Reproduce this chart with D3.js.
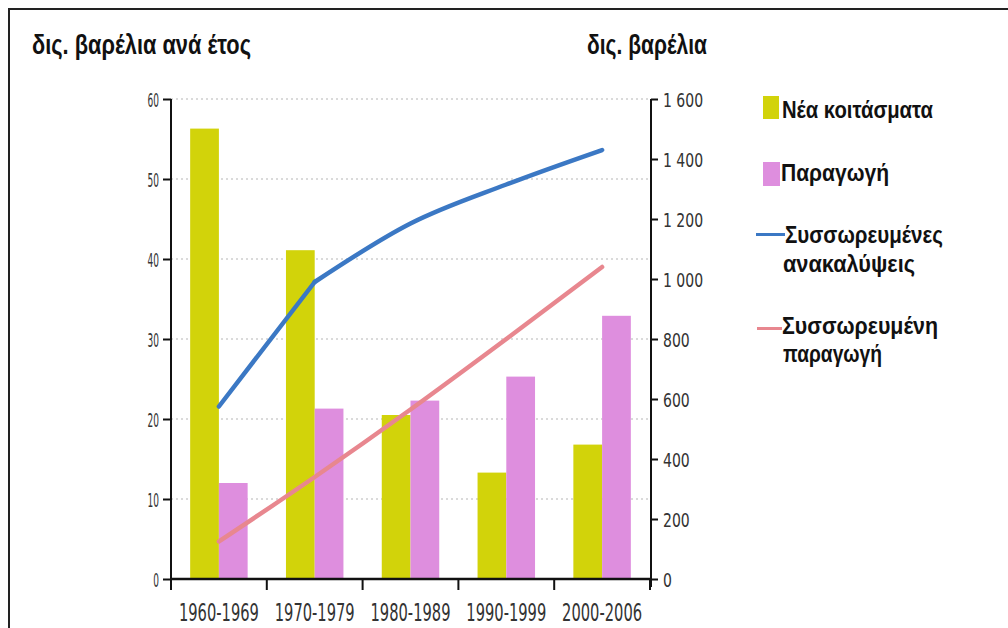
<!DOCTYPE html>
<html>
<head>
<meta charset="utf-8">
<script src="https://cdn.jsdelivr.net/npm/d3@7"></script>
<style>
  html, body { margin: 0; padding: 0; background: #fff; }
  svg { display: block; }
  .narrow { font-family: "Liberation Sans Narrow", "Arial Narrow", "DejaVu Sans Condensed", sans-serif; font-stretch: condensed; }
  .bold { font-family: "Liberation Sans", Arial, "DejaVu Sans", sans-serif; font-weight: bold; }
</style>
</head>
<body>
<svg id="chart" width="1008" height="628"></svg>
<script>
// Periods on the x axis
const periods = ["1960-1969", "1970-1979", "1980-1989", "1990-1999", "2000-2006"];
// Bars, billion barrels per year
const newReserves = [56.3, 41.1, 20.5, 13.3, 16.8];
const production = [12.0, 21.3, 22.3, 25.3, 32.9];
// Lines, cumulative billion barrels
const cumDiscoveries = [575, 990, 1185, 1315, 1430];
const cumProduction = [125, 340, 565, 800, 1040];
// Axis ticks
const leftTicks = [0, 10, 20, 30, 40, 50, 60];
const rightTicks = [0, 200, 400, 600, 800, 1000, 1200, 1400, 1600];

const labels = {
  leftTitle: "δις. βαρέλια ανά έτος",
  rightTitle: "δις. βαρέλια",
  newReserves: "Νέα κοιτάσματα",
  production: "Παραγωγή",
  cumDiscoveries: ["Συσσωρευμένες", "ανακαλύψεις"],
  cumProduction: ["Συσσωρευμένη", "παραγωγή"]
};

const colors = {
  yellow: "#d2d30a",
  pink: "#de8ede",
  blue: "#3b78c4",
  salmon: "#e8878f"
};

const svg = d3.select("#chart");
const plot = { left: 171, right: 650, top: 99, bottom: 579 };

const yL = d3.scaleLinear().domain([0, 60]).range([plot.bottom, plot.top]);
const yR = d3.scaleLinear().domain([0, 1600]).range([plot.bottom, plot.top]);
const x0 = d3.scaleBand().domain(periods).range([plot.left, plot.right]);
const bw = x0.bandwidth();
const x1 = d3.scaleBand().domain(["new", "prod"]).range([bw * 0.2, bw * 0.8]);

// Condensed bold heading text, fitted to a set width
function heading(sel, x, y, size, width, str) {
  return sel.append("text").attr("class", "bold")
    .attr("x", x).attr("y", y).attr("font-size", size).attr("fill", "#111")
    .attr("textLength", width).attr("lengthAdjust", "spacingAndGlyphs")
    .text(str);
}

// Outer frame (top and left edges)
svg.append("line").attr("x1", 9).attr("x2", 1008).attr("y1", 9).attr("y2", 9)
  .attr("stroke", "#222").attr("stroke-width", 2);
svg.append("line").attr("x1", 9).attr("x2", 9).attr("y1", 8).attr("y2", 628)
  .attr("stroke", "#222").attr("stroke-width", 2);

// Titles
heading(svg, 32, 54, 27, 219, labels.leftTitle);
heading(svg, 587, 54, 27, 120, labels.rightTitle);

// Dotted grid
svg.append("g").selectAll("line").data(leftTicks.filter(d => d > 0)).join("line")
  .attr("x1", plot.left).attr("x2", plot.right)
  .attr("y1", d => yL(d)).attr("y2", d => yL(d))
  .attr("stroke", "#b5b5b5").attr("stroke-width", 1).attr("stroke-dasharray", "2,3");

// Bars
const groups = svg.append("g").selectAll("g").data(periods).join("g")
  .attr("transform", p => `translate(${x0(p)},0)`);
groups.append("rect")
  .attr("x", x1("new")).attr("width", x1.bandwidth())
  .attr("y", (p, i) => yL(newReserves[i]))
  .attr("height", (p, i) => yL(0) - yL(newReserves[i]))
  .attr("fill", colors.yellow);
groups.append("rect")
  .attr("x", x1("prod")).attr("width", x1.bandwidth())
  .attr("y", (p, i) => yL(production[i]))
  .attr("height", (p, i) => yL(0) - yL(production[i]))
  .attr("fill", colors.pink);

// Lines on the right scale
const cx = p => x0(p) + bw / 2;
const pts = vals => periods.map((p, i) => ({ p, v: vals[i] }));
const lineLinear = d3.line().x(d => cx(d.p)).y(d => yR(d.v));
const lineSmooth = d3.line().x(d => cx(d.p)).y(d => yR(d.v)).curve(d3.curveMonotoneX);
const disc = pts(cumDiscoveries);
// Discoveries: steep first decade, then a smooth flattening curve
[[lineLinear, disc.slice(0, 2)], [lineSmooth, disc.slice(1)]].forEach(([gen, data]) => {
  svg.append("path").datum(data).attr("d", gen)
    .attr("fill", "none").attr("stroke", colors.blue).attr("stroke-width", 4.5)
    .attr("stroke-linecap", "round");
});
svg.append("path").datum(pts(cumProduction)).attr("d", lineSmooth)
  .attr("fill", "none").attr("stroke", colors.salmon).attr("stroke-width", 4.5)
  .attr("stroke-linecap", "round");

// Left axis
const gL = svg.append("g").attr("transform", `translate(${plot.left},0)`)
  .call(d3.axisLeft(yL).tickValues(leftTicks).tickSize(8).tickSizeOuter(0).tickPadding(4));
gL.select(".domain").attr("stroke", "#111").attr("stroke-width", 2)
  .attr("d", `M0,${plot.top}V${plot.bottom + 11}`);
gL.selectAll(".tick line").attr("stroke", "#111").attr("stroke-width", 2);
gL.selectAll(".tick text").attr("class", "narrow")
  .attr("font-size", 20).attr("fill", "#333")
  .attr("x", null).attr("dy", "0.36em")
  .attr("transform", "translate(-12,0) scale(0.5,1)");

// Right axis
const fmt = d => d >= 1000 ? d3.format("d")(Math.floor(d / 1000)) + " " + d3.format("03d")(d % 1000) : String(d);
const gR = svg.append("g").attr("transform", `translate(${plot.right + 1},0)`)
  .call(d3.axisRight(yR).tickValues(rightTicks).tickFormat(fmt).tickSize(7).tickSizeOuter(0).tickPadding(5));
gR.select(".domain").attr("stroke", "#111").attr("stroke-width", 2)
  .attr("d", `M0,${plot.top}V${plot.bottom + 8}`);
gR.selectAll(".tick line").attr("stroke", "#111").attr("stroke-width", 2);
gR.selectAll(".tick text").attr("class", "narrow")
  .attr("font-size", 20).attr("fill", "#333").attr("dy", "0.36em")
  .attr("x", null).attr("transform", "translate(12,0) scale(0.78,1)");

// Bottom axis: baseline, boundary ticks, period labels
const gB = svg.append("g").attr("transform", `translate(0,${plot.bottom})`)
  .call(d3.axisBottom(x0).tickSize(0).tickPadding(0));
gB.select(".domain").attr("stroke", "#111").attr("stroke-width", 2.5)
  .attr("d", `M${plot.left},0H${plot.right}`);
gB.selectAll(".tick text").attr("class", "narrow")
  .attr("font-size", 24).attr("fill", "#333")
  .attr("y", null).attr("dy", null)
  .attr("transform", "translate(0,42) scale(0.68,1)");
const bounds = periods.map(p => x0(p)).concat([x0.range()[1]]);
gB.append("g").selectAll("line").data(bounds).join("line")
  .attr("x1", d => d).attr("x2", d => d).attr("y1", 0).attr("y2", 11)
  .attr("stroke", "#111").attr("stroke-width", 2);

// Legend
const lg = svg.append("g");
lg.append("rect").attr("x", 763).attr("y", 96).attr("width", 16).attr("height", 23).attr("fill", colors.yellow);
heading(lg, 782, 118, 23, 151, labels.newReserves);
lg.append("rect").attr("x", 763).attr("y", 162).attr("width", 17).attr("height", 24).attr("fill", colors.pink);
heading(lg, 781, 181, 23, 108, labels.production);
lg.append("line").attr("x1", 756).attr("x2", 785).attr("y1", 234.5).attr("y2", 234.5)
  .attr("stroke", colors.blue).attr("stroke-width", 3);
heading(lg, 785, 243, 23, 158, labels.cumDiscoveries[0]);
heading(lg, 783, 272, 23, 132, labels.cumDiscoveries[1]);
lg.append("line").attr("x1", 757).attr("x2", 782).attr("y1", 328.5).attr("y2", 328.5)
  .attr("stroke", colors.salmon).attr("stroke-width", 3);
heading(lg, 782, 334, 23, 156, labels.cumProduction[0]);
heading(lg, 783, 362, 23, 99, labels.cumProduction[1]);
</script>
</body>
</html>
